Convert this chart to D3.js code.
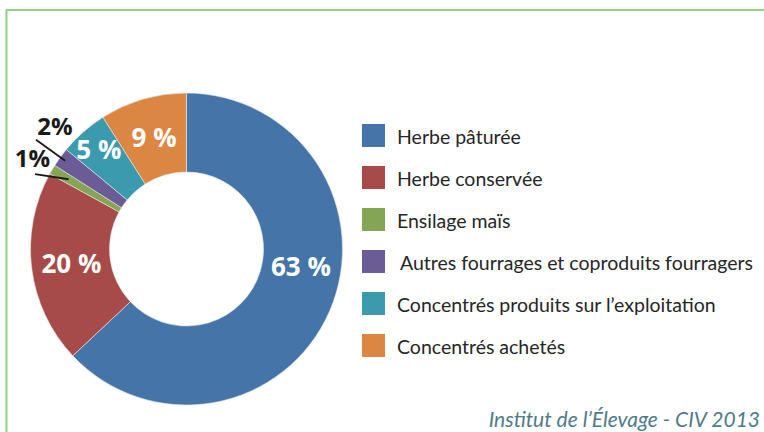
<!DOCTYPE html>
<html>
<head>
<meta charset="utf-8">
<script src="https://cdn.jsdelivr.net/npm/d3@7"></script>
<style>
	body { margin: 0; background: #fff; }
	svg { display: block; }
</style>
</head>
<body>
<div class="container"></div>
<script>
var	WIDTH = 764,
	HEIGHT = 432,
	CX = 186.5,
	CY = 249,
	OUTER = 156,
	INNER = 77;

var categories = [
	'Herbe pâturée',
	'Herbe conservée',
	'Ensilage maïs',
	'Autres fourrages et coproduits fourragers',
	'Concentrés produits sur l’exploitation',
	'Concentrés achetés'
];
var shares = [63, 20, 1, 2, 5, 9];
var colors = ['#4575a8', '#a74b4a', '#84a553', '#6b5b96', '#3b9aae', '#dc8643'];
var source = 'Institut de l’Élevage - CIV 2013';

function translate(x, y) {
	return 'translate(' + x + ',' + y + ')';
}

// point at angle a (radians, clockwise from 12 o'clock) and radius r
function polar(a, r) {
	return [Math.sin(a) * r, -Math.cos(a) * r];
}

var svg = d3.select('.container').append('svg')
	.attr('width', WIDTH)
	.attr('height', HEIGHT);

// green frame
svg.append('path')
	.attr('d', 'M6.5,' + HEIGHT + 'V10H' + WIDTH)
	.attr('fill', 'none')
	.attr('stroke', '#92d27e')
	.attr('stroke-width', 2);

var pie = d3.pie().sort(null).value(function(d) { return d; });
var arcs = pie(shares);

var arc = d3.arc().innerRadius(INNER).outerRadius(OUTER);
var labelArc = d3.arc().innerRadius(116).outerRadius(116);

var donut = svg.append('g').attr('transform', translate(CX, CY));

donut.selectAll('path.slice')
	.data(arcs).enter()
	.append('path')
	.attr('class', 'slice')
	.attr('d', arc)
	.attr('fill', function(d, i) { return colors[i]; })
	.attr('stroke', '#e8e8e8')
	.attr('stroke-width', 0.6);

// labels inside the big slices, a few nudged like the original
var nudge = { 0: [8, -28], 4: [-11, -12] };
donut.selectAll('text.inside')
	.data(arcs.filter(function(d) { return d.data >= 5; })).enter()
	.append('text')
	.attr('class', 'inside')
	.attr('transform', function(d) {
		var c = labelArc.centroid(d), n = nudge[d.index] || [0, 0];
		return translate(c[0] + n[0], c[1] + n[1]);
	})
	.attr('text-anchor', 'middle')
	.attr('dy', '0.36em')
	.attr('fill', '#fff')
	.style('font-family', '"Open Sans", sans-serif')
	.style('font-weight', 700)
	.style('font-size', '26px')
	.text(function(d) { return d.data + ' %'; });

// small slices: label outside with a leader line
var outside = {
	2: { from: [-4.3, 169], to: [0, 137], text: [0, 179] },
	3: { from: [0, 186], to: [0, 150], text: [7, 180] }
};
arcs.filter(function(d) { return outside[d.index]; }).forEach(function(d) {
	var o = outside[d.index],
		mid = (d.startAngle + d.endAngle) / 2,
		deg = Math.PI / 180,
		p1 = polar(mid + o.from[0] * deg, o.from[1]),
		p2 = polar(mid + o.to[0] * deg, o.to[1]),
		pt = polar(mid + o.text[0] * deg, o.text[1]);
	donut.append('line')
		.attr('x1', p1[0]).attr('y1', p1[1])
		.attr('x2', p2[0]).attr('y2', p2[1])
		.attr('stroke', '#1a1a1a')
		.attr('stroke-width', 1.8);
	donut.append('text')
		.attr('transform', translate(pt[0], pt[1]))
		.attr('text-anchor', 'middle')
		.attr('dy', '0.36em')
		.attr('fill', '#1a1a1a')
		.style('font-family', '"Open Sans", sans-serif')
		.style('font-weight', 700)
		.style('font-size', '24px')
		.text(d.data + '%');
});

// legend
var legendY = d3.scalePoint()
	.domain(categories)
	.range([124, 334]);

var legend = svg.append('g').attr('transform', translate(362, 0));

var item = legend.selectAll('g.item')
	.data(categories).enter()
	.append('g')
	.attr('class', 'item')
	.attr('transform', function(d) { return translate(0, legendY(d)); });

item.append('rect')
	.attr('width', 23)
	.attr('height', 23)
	.attr('fill', function(d, i) { return colors[i]; });

item.append('text')
	.attr('x', function(d, i) { return i === 3 ? 38 : 35; })
	.attr('y', 20)
	.attr('fill', '#262626')
	.style('font-family', 'Lato, sans-serif')
	.style('font-size', '19.5px')
	.text(function(d) { return d; });

svg.append('text')
	.attr('x', 760)
	.attr('y', 427)
	.attr('text-anchor', 'end')
	.attr('fill', '#4f7b88')
	.style('font-family', 'Lato, sans-serif')
	.style('font-style', 'italic')
	.style('font-size', '21px')
	.text(source);
</script>
</body>
</html>
